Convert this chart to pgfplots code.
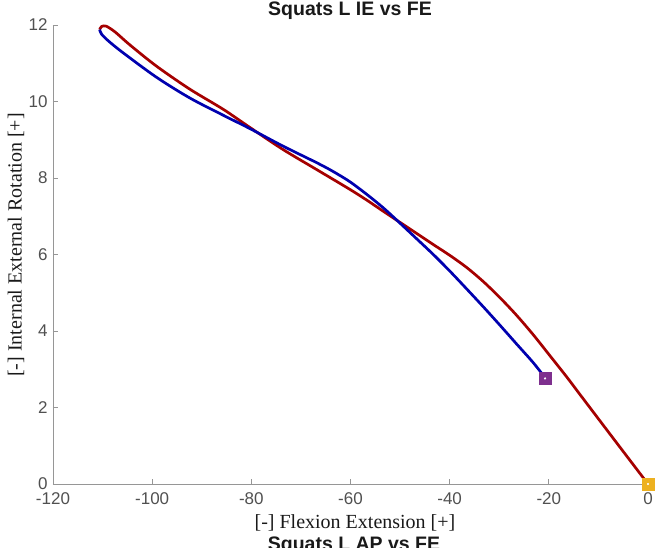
\documentclass[border=0pt]{standalone}
\usepackage{pgfplots}
\pgfplotsset{compat=1.18}
\usepackage{fontspec}
\newfontfamily\arialf{Liberation Sans}
\newfontfamily\timesf{Liberation Serif}
\definecolor{axgray}{RGB}{150,150,150}
\definecolor{lblgray}{RGB}{80,80,80}
\definecolor{myred}{RGB}{165,0,0}
\definecolor{myblue}{RGB}{0,0,175}
\definecolor{mypurple}{RGB}{126,47,142}
\definecolor{myyellow}{RGB}{237,177,32}
\begin{document}
\begin{tikzpicture}[x=1pt,y=1pt]
\begin{axis}[
  at={(0pt,0pt)}, anchor=south west,
  scale only axis, width=595pt, height=459pt,
  xmin=-120, xmax=0, ymin=0, ymax=12,
  xtick={-120,-100,...,0}, ytick={0,2,...,12},
  axis lines*=left, axis line style={-, draw=axgray, line width=0.8pt},
  tick style={draw=axgray, line width=0.8pt},
  tick align=inside, major tick length=5pt,
  /pgf/number format/assume math mode=true,
  tick label style={font=\arialf\fontsize{17}{17}\selectfont, text=lblgray},
  xticklabel style={yshift=-5pt},
  yticklabel style={xshift=-2pt},
  clip=false,
]
\addplot[myred, line width=2.7pt, smooth, tension=0.5] coordinates {
(0,0) (-6.7,1.14) (-13.37,2.28) (-16.40,2.80) (-20.0,3.39) (-23.13,3.90)
(-26.5,4.41) (-29.85,4.87) (-33.2,5.29) (-36.57,5.66) (-40.0,5.98)
(-43.30,6.26) (-46.65,6.55) (-50.02,6.84) (-53.39,7.13) (-56.7,7.42)
(-60.10,7.70) (-66.82,8.22) (-73.56,8.74) (-80.27,9.32) (-85.72,9.80)
(-92.38,10.32) (-99.09,10.92) (-104.5,11.48) (-107.5,11.82) (-109.3,11.97)
(-110.2,11.96) (-110.6,11.88)
};
\addplot[myblue, line width=2.7pt, smooth, tension=0.5] coordinates {
(-110.6,11.88) (-110.2,11.76) (-108.8,11.58) (-105.83,11.27) (-99.09,10.63)
(-92.38,10.09) (-85.66,9.64) (-80.27,9.29) (-73.56,8.83) (-66.82,8.40)
(-63.5,8.17) (-60.10,7.90) (-56.7,7.57) (-53.39,7.22) (-50.02,6.82)
(-46.65,6.41) (-43.30,6.00) (-40.0,5.57) (-36.57,5.10) (-33.2,4.63)
(-29.85,4.15) (-26.5,3.66) (-23.13,3.17) (-20.77,2.78)
};
\addplot[only marks, mark=square*, mark size=6pt, color=mypurple] coordinates {(-20.77,2.76)};
\addplot[only marks, mark=square*, mark size=6pt, color=myyellow] coordinates {(0,0)};
\addplot[only marks, mark=*, mark size=0.9pt, color=white] coordinates {(-20.77,2.76) (0,0)};
\end{axis}
\node[anchor=base, font=\arialf\bfseries\fontsize{19.5}{19.5}\selectfont, text=black!90] at (297pt,468pt) {Squats L IE vs FE};
\node[anchor=base, font=\timesf\fontsize{20}{20}\selectfont, text=black!90] at (302pt,-44.3pt) {[-] Flexion Extension [+]};
\node[anchor=base, rotate=90, font=\timesf\fontsize{20}{20}\selectfont, text=black!90] at (-31.3pt,239pt) {[-] Internal External Rotation [+]};
\node[anchor=base, font=\arialf\bfseries\fontsize{19.5}{19.5}\selectfont, text=black!90] at (301pt,-66.7pt) {Squats L AP vs FE};
\pgfresetboundingbox
\useasboundingbox (-53pt,-64pt) rectangle (605pt,484pt);
\end{tikzpicture}
\end{document}
